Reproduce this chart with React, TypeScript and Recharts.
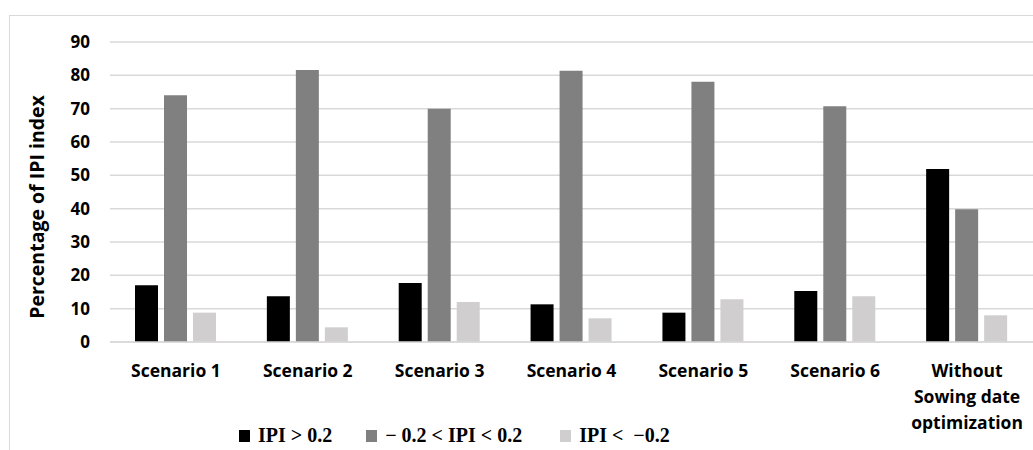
import { BarChart, Bar, XAxis, YAxis, CartesianGrid, Legend } from 'recharts'

const categories = [
  'Scenario 1',
  'Scenario 2',
  'Scenario 3',
  'Scenario 4',
  'Scenario 5',
  'Scenario 6',
  'Without\nSowing date\noptimization',
]
const ipiHigh = [17, 13.7, 17.7, 11.3, 8.8, 15.3, 51.9]
const ipiMid = [74, 81.6, 70, 81.4, 78.1, 70.7, 39.8]
const ipiLow = [8.8, 4.4, 12, 7.1, 12.8, 13.7, 8]
const yTicks = [0, 10, 20, 30, 40, 50, 60, 70, 80, 90]

const seriesNames = ['IPI > 0.2', '\u2212 0.2 < IPI < 0.2', 'IPI <  \u22120.2']
const colors = ['#000000', '#808080', '#d0cece']

const data = categories.map((name, i) => ({
  name,
  high: ipiHigh[i],
  mid: ipiMid[i],
  low: ipiLow[i],
}))

const sans = '"Open Sans", Lato, sans-serif'

const CategoryTick = (props: any) => {
  const { x, y, payload } = props
  const lines = String(payload.value).split('\n')
  return (
    <text
      x={x}
      y={y + 35}
      textAnchor='middle'
      fontFamily={sans}
      fontWeight='bold'
      fontSize={17.5}
      fill='#000'
    >
      {lines.map((line, i) => (
        <tspan key={i} x={x} dy={i === 0 ? 0 : 26}>
          {line}
        </tspan>
      ))}
    </text>
  )
}

const LegendContent = () => (
  <div
    style={{
      display: 'flex',
      alignItems: 'center',
      fontFamily: '"Liberation Serif", "Times New Roman", serif',
      fontWeight: 'bold',
      fontSize: 20,
      color: '#000',
      whiteSpace: 'pre',
    }}
  >
    {seriesNames.map((n, i) => (
      <div
        key={n}
        style={{ display: 'flex', alignItems: 'center', marginRight: i === 0 ? 34 : 38 }}
      >
        <span
          style={{
            display: 'inline-block',
            width: 11,
            height: 12,
            background: colors[i],
            marginRight: 8,
          }}
        />
        <span>{n}</span>
      </div>
    ))}
  </div>
)

export default function App() {
  return (
    <div
      style={{
        position: 'absolute',
        left: 0,
        top: 0,
        width: 1033,
        height: 450,
        overflow: 'hidden',
        background: '#fff',
      }}
    >
      <div
        style={{
          position: 'absolute',
          left: 9,
          top: 15,
          width: 1100,
          height: 500,
          border: '1px solid #d9d9d9',
        }}
      />
      <div style={{ position: 'absolute', left: 0, top: 0 }}>
        <BarChart
          width={1033}
          height={450}
          data={data}
          margin={{ top: 42, right: 0, bottom: 0, left: 0 }}
          barSize={23}
          barGap={6}
        >
          <CartesianGrid vertical={false} stroke='#d9d9d9' strokeWidth={1.5} />
          <XAxis
            dataKey='name'
            height={108}
            axisLine={{ stroke: '#d9d9d9', strokeWidth: 1.5 }}
            tickLine={false}
            tickSize={0}
            tickMargin={0}
            interval={0}
            tick={<CategoryTick />}
          />
          <YAxis
            width={110}
            domain={[0, 90]}
            ticks={yTicks}
            axisLine={false}
            tickLine={false}
            tickSize={0}
            tickMargin={20}
            tick={{ fontFamily: sans, fontWeight: 'bold', fontSize: 17, fill: '#000' }}
            label={({ viewBox }: any) => (
              <text
                x={36}
                y={viewBox.y + viewBox.height / 2 + 15}
                transform={`rotate(-90, 36, ${viewBox.y + viewBox.height / 2 + 15})`}
                textAnchor='middle'
                dominantBaseline='central'
                fontFamily={sans}
                fontWeight='bold'
                fontSize={19.5}
                fill='#000'
              >
                Percentage of IPI index
              </text>
            )}
          />
          <Legend
            layout='horizontal'
            verticalAlign='middle'
            align='center'
            content={<LegendContent />}
            wrapperStyle={{ top: 424, left: 239, width: 600, height: 24 }}
          />
          <Bar dataKey='high' name={seriesNames[0]} fill={colors[0]} isAnimationActive={false} />
          <Bar dataKey='mid' name={seriesNames[1]} fill={colors[1]} isAnimationActive={false} />
          <Bar dataKey='low' name={seriesNames[2]} fill={colors[2]} isAnimationActive={false} />
        </BarChart>
      </div>
    </div>
  )
}
